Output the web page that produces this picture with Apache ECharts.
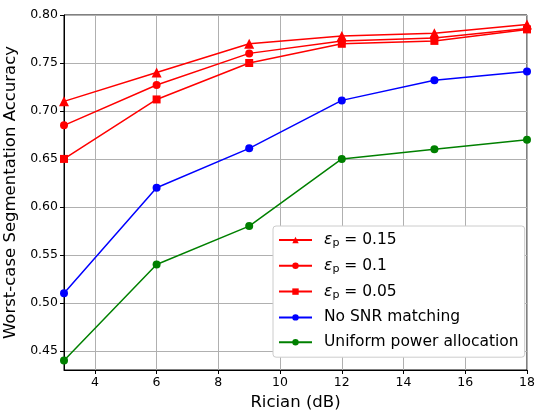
<!DOCTYPE html>
<html>
<head>
<meta charset="utf-8">
<script src="https://cdn.jsdelivr.net/npm/echarts@6/dist/echarts.min.js"></script>
<style>
  html, body { margin: 0; padding: 0; background: #fff; }
  #main { width: 535px; height: 412px; }
</style>
</head>
<body>
<div id="main"></div>
<script>
// Rician K-factor (dB)
var rician = [3, 6, 9, 12, 15, 18];

// accuracy curves
var eps015 = [0.710, 0.740, 0.770, 0.778, 0.781, 0.790];
var eps010 = [0.685, 0.727, 0.760, 0.773, 0.776, 0.786];
var eps005 = [0.650, 0.712, 0.750, 0.770, 0.773, 0.785];
var noSnr = [0.510, 0.620, 0.661, 0.711, 0.732, 0.741];
var uniform = [0.440, 0.540, 0.580, 0.650, 0.660, 0.670];

var xTicks = [4, 6, 8, 10, 12, 14, 16, 18];
var yTicks = [0.45, 0.50, 0.55, 0.60, 0.65, 0.70, 0.75, 0.80];

var font = 'DejaVu Sans';

function pts(ys) {
  return rician.map(function (x, i) { return [x, ys[i]]; });
}

function line(name, ys, color, symbol, size) {
  return {
    name: name,
    type: 'line',
    data: pts(ys),
    symbol: symbol,
    symbolSize: size,
    showSymbol: true,
    lineStyle: { color: color, width: 1.5 },
    itemStyle: { color: color },
    emphasis: { disabled: true },
    animation: false
  };
}

var myChart = echarts.init(document.getElementById('main'));

var option = {
  backgroundColor: '#fff',
  grid: {
    left: 64, right: 8, top: 15, bottom: 42,
    outerBoundsMode: 'none',
    containLabel: false,
    show: true, borderColor: '#000', borderWidth: 1
  },
  xAxis: {
    type: 'value',
    min: 3, max: 18,
    name: 'Rician (dB)',
    nameLocation: 'middle',
    nameGap: 20,
    nameTextStyle: { fontFamily: font, fontSize: 16.5, color: '#000' },
    axisLine: { show: true, onZero: false, lineStyle: { color: '#000', width: 1 } },
    axisTick: { show: true, length: 4, customValues: xTicks, lineStyle: { color: '#000' } },
    axisLabel: { customValues: xTicks, fontFamily: font, fontSize: 12.5, color: '#000', margin: 6 },
    splitLine: { show: true, customValues: xTicks, lineStyle: { color: '#b0b0b0', width: 1 } }
  },
  yAxis: {
    type: 'value',
    min: 0.43, max: 0.80,
    name: 'Worst-case Segmentation Accuracy',
    nameLocation: 'middle',
    nameGap: 38,
    nameTextStyle: { fontFamily: font, fontSize: 16.5, color: '#000' },
    axisLine: { show: true, onZero: false, lineStyle: { color: '#000', width: 1 } },
    axisTick: { show: true, length: 4, customValues: yTicks, lineStyle: { color: '#000' } },
    axisLabel: {
      customValues: yTicks, fontFamily: font, fontSize: 12.5, color: '#000', margin: 6,
      formatter: function (v) { return v.toFixed(2); }
    },
    splitLine: { show: true, customValues: yTicks, lineStyle: { color: '#b0b0b0', width: 1 } }
  },
  legend: {
    orient: 'vertical',
    left: 273, top: 226,
    padding: [6, 6, 7, 5],
    itemGap: 8.8,
    itemWidth: 33,
    itemHeight: 8,
    backgroundColor: '#fff',
    borderColor: '#ccc',
    borderWidth: 1,
    borderRadius: 3,
    textStyle: {
      fontFamily: font, fontSize: 15.5, color: '#000', padding: [0, 0, 0, 7],
      rich: {
        e: { fontFamily: font, fontSize: 15.5, fontStyle: 'italic', color: '#000' },
        s: { fontFamily: font, fontSize: 11, color: '#000', verticalAlign: 'bottom', padding: [7, 0, 0, 0] },
        t: { fontFamily: font, fontSize: 15.5, color: '#000' }
      }
    },
    formatter: function (name) {
      if (name.indexOf('eps') === 0) {
        return '{e|ε}{s|p}{t| = ' + name.slice(4) + '}';
      }
      return name;
    },
    data: ['eps 0.15', 'eps 0.1', 'eps 0.05', 'No SNR matching', 'Uniform power allocation']
  },
  series: [
    line('eps 0.15', eps015, '#ff0000', 'triangle', 10),
    line('eps 0.1', eps010, '#ff0000', 'circle', 8),
    line('eps 0.05', eps005, '#ff0000', 'rect', 8),
    line('No SNR matching', noSnr, '#0000ff', 'circle', 8),
    line('Uniform power allocation', uniform, '#008000', 'circle', 8)
  ]
};

myChart.setOption(option);
</script>
</body>
</html>
